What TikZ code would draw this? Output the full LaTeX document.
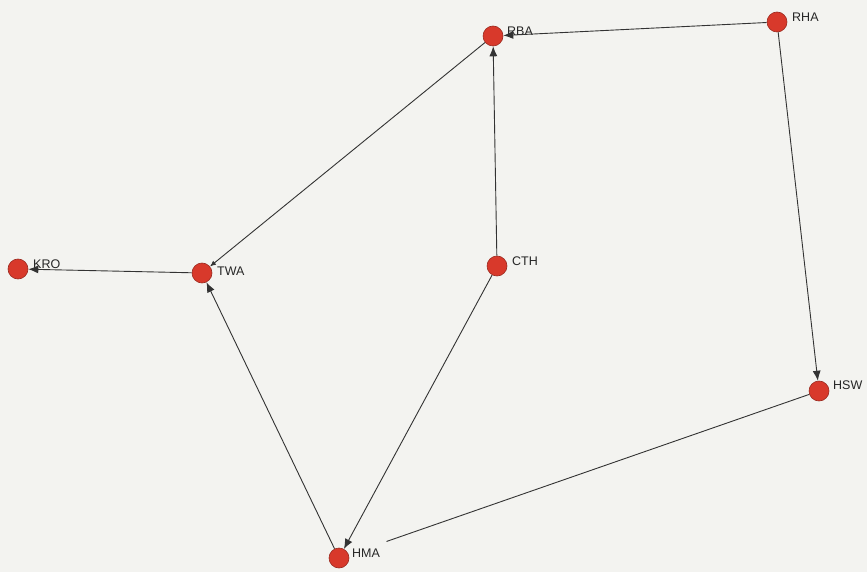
\documentclass[tikz,border=0pt]{standalone}
\usepackage{fontspec}
\setmainfont{Liberation Sans}
\usetikzlibrary{arrows.meta}
\definecolor{nodered}{HTML}{D8392B}
\definecolor{nodeedge}{HTML}{9A2A20}
\definecolor{bg}{HTML}{F3F3F0}
\begin{document}
\begin{tikzpicture}[x=1pt,y=-1pt,
  vtx/.style={circle,fill=nodered,draw=nodeedge,line width=0.6pt,minimum size=20pt,inner sep=0pt},
  lbl/.style={anchor=west,font=\fontsize{12.5}{13}\selectfont,inner sep=0pt,text=black!85},
  edge/.style={draw=black!80,line width=0.9pt},
  arr/.style={edge,-{Latex[length=10pt,width=8pt]}}]
\fill[bg] (0,0) rectangle (867,572);
\useasboundingbox (0,0) rectangle (867,572);
\node[vtx] (RBA) at (493,36) {};
\node[vtx] (RHA) at (777,22) {};
\node[vtx] (KRO) at (18,269) {};
\node[vtx] (TWA) at (202,273) {};
\node[vtx] (CTH) at (497,266) {};
\node[vtx] (HSW) at (819,391) {};
\node[vtx] (HMA) at (339,558) {};
\node[lbl] (lRBA) at (507,31) {RBA};
\node[lbl] (lRHA) at (792,17) {RHA};
\node[lbl] (lKRO) at (33,264) {KRO};
\node[lbl] (lTWA) at (217,271) {TWA};
\node[lbl] (lCTH) at (512,261) {CTH};
\node[lbl] (lHSW) at (833,385) {HSW};
\node[lbl] (lHMA) at (352,553) {HMA};
\draw[arr] (RHA) -- (RBA);
\draw[arr] (CTH) -- (RBA);
\draw[arr,-{Latex[length=6pt,width=5pt]}] (RBA) -- (TWA);
\draw[arr] (TWA) -- (KRO);
\draw[arr] (HMA) -- (TWA);
\draw[arr] (CTH) -- (HMA);
\draw[arr] (RHA) -- (HSW);
\draw[edge,shorten >=40pt] (HSW) -- (HMA);
\end{tikzpicture}
\end{document}
